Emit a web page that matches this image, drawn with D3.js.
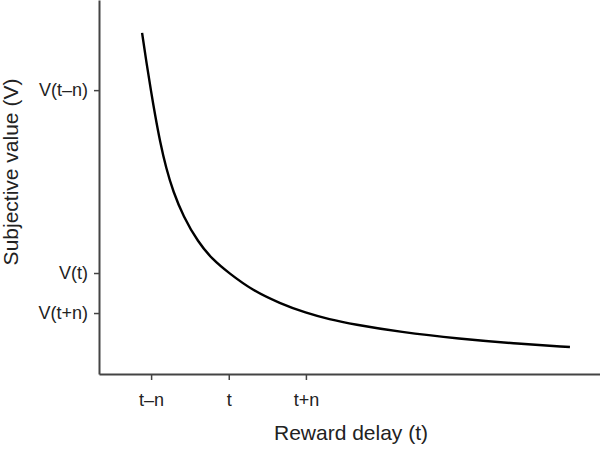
<!DOCTYPE html>
<html><head><meta charset="utf-8">
<script src="https://cdn.jsdelivr.net/npm/d3@7"></script>
<style>html,body{margin:0;padding:0;background:#fff;}svg{display:block;}</style>
</head><body>
<svg id="c" width="600" height="449"></svg>
<script>
// Curve points (delay units, value units)
const delay = [0.86,0.95,1.04,1.12,1.22,1.34,1.48,1.68,1.98,2.26,2.59,3.07,3.61,4.13,4.60,5.07,6.01,7.21,8.26,9.40];
const value = [9.12,8.30,7.55,6.92,6.20,5.50,4.88,4.22,3.52,3.07,2.70,2.23,1.89,1.63,1.46,1.33,1.12,0.94,0.82,0.72];
const xTickValues = [1.04, 2.59, 4.13];
const xTickLabels = ["t\u2013n", "t", "t+n"];
const yTickValues = [7.59, 2.70, 1.63];
const yTickLabels = ["V(t\u2013n)", "V(t)", "V(t+n)"];

(function(){
const svg = d3.select("#c");
const mLeft = 99, mBottom = 374, mRight = 600, mTop = 0;
const x = d3.scaleLinear().domain([0, 10]).range([mLeft, mRight]);
const y = d3.scaleLinear().domain([0, 10]).range([mBottom, mTop]);
const font = "'Liberation Sans', Arial, sans-serif";
const axisCol = "#444";

const xAxis = d3.axisBottom(x).tickValues(xTickValues)
  .tickFormat((d,i) => xTickLabels[i]).tickSize(6).tickPadding(13).tickSizeOuter(0);
const gx = svg.append("g").attr("transform", `translate(0,${mBottom})`).call(xAxis);
const yAxis = d3.axisLeft(y).tickValues(yTickValues)
  .tickFormat((d,i) => yTickLabels[i]).tickSize(5).tickPadding(6).tickSizeOuter(0);
const gy = svg.append("g").attr("transform", `translate(${mLeft},0)`).call(yAxis);

[gx, gy].forEach(g => {
  g.select(".domain").attr("stroke", axisCol).attr("stroke-width", 2);
  g.selectAll(".tick line").attr("stroke", axisCol).attr("stroke-width", 1.5);
  g.selectAll(".tick text").attr("fill", "#222").attr("font-family", font).attr("font-size", 18);
});

const pts = delay.map((d,i) => [d, value[i]]);
const line = d3.line().x(d => x(d[0])).y(d => y(d[1])).curve(d3.curveBasis);
svg.append("path").datum(pts).attr("d", line)
  .attr("fill", "none").attr("stroke", "#000").attr("stroke-width", 2.4);

svg.append("text").attr("x", 351).attr("y", 440).attr("text-anchor", "middle")
  .attr("font-family", font).attr("font-size", 21).attr("fill", "#222").text("Reward delay (t)");
svg.append("text").attr("transform", "translate(18,172) rotate(-90)").attr("text-anchor", "middle")
  .attr("font-family", font).attr("font-size", 21).attr("fill", "#222").text("Subjective value (V)");
})();
</script>
</body></html>
